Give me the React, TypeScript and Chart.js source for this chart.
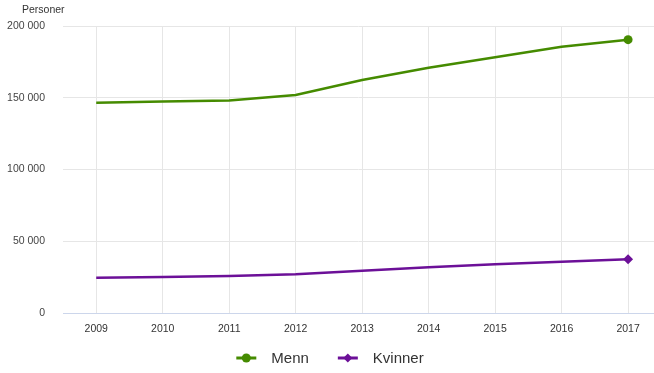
import React, { useEffect, useRef } from "react";
import { Chart, registerables } from "chart.js";

Chart.register(...registerables);

const years = [2009, 2010, 2011, 2012, 2013, 2014, 2015, 2016, 2017];
const menn = [146500, 147300, 148000, 151900, 162400, 170900, 178200, 185600, 190500];
const kvinner = [24600, 25100, 25800, 27000, 29500, 31800, 33900, 35800, 37400];
const yTicks = [0, 50000, 100000, 150000, 200000];
const seriesNames = ["Menn", "Kvinner"];
const unitLabel = "Personer";

const GREEN = "#458b00";
const PURPLE = "#6c1098";
const FONT = "Arial, 'Liberation Sans', sans-serif";

function fmt(v: number) {
  return String(v).replace(/\B(?=(\d{3})+(?!\d))/g, " ");
}

export default function App() {
  const ref = useRef<HTMLCanvasElement>(null);
  useEffect(() => {
    const titlePlugin = {
      id: "unitTitle",
      afterDraw(chart: any) {
        const ctx = chart.ctx;
        ctx.save();
        ctx.font = "10.5px " + FONT;
        ctx.fillStyle = "#333";
        ctx.textBaseline = "middle";
        ctx.textAlign = "left";
        ctx.fillText(unitLabel, 22, 10);
        ctx.restore();
      },
    };
    const legendPlugin = {
      id: "lineLegend",
      afterDraw(chart: any) {
        const ctx = chart.ctx;
        ctx.save();
        ctx.font = "15px " + FONT;
        const iconW = 20;
        const iconGap = 15;
        const itemGap = 29;
        const ds = chart.data.datasets;
        const widths = ds.map((d: any) => ctx.measureText(d.label).width);
        const total =
          widths.reduce((a: number, w: number) => a + w + iconW + iconGap, 0) + itemGap * (ds.length - 1);
        let x = chart.width / 2 - total / 2 + 3;
        const y = 358;
        ds.forEach((d: any, i: number) => {
          const color = d.borderColor;
          ctx.strokeStyle = color;
          ctx.fillStyle = color;
          ctx.lineWidth = 3;
          ctx.beginPath();
          ctx.moveTo(x, y);
          ctx.lineTo(x + iconW, y);
          ctx.stroke();
          ctx.beginPath();
          const cx = x + iconW / 2;
          if (i === 0) {
            ctx.arc(cx, y, 4.5, 0, Math.PI * 2);
          } else {
            ctx.moveTo(cx, y - 4.5);
            ctx.lineTo(cx + 4.5, y);
            ctx.lineTo(cx, y + 4.5);
            ctx.lineTo(cx - 4.5, y);
            ctx.closePath();
          }
          ctx.fill();
          x += iconW + iconGap;
          ctx.fillStyle = "#333";
          ctx.textBaseline = "middle";
          ctx.textAlign = "left";
          ctx.fillText(d.label, x, y + 0.5);
          x += widths[i] + itemGap;
        });
        ctx.restore();
      },
    };
    const lastOnly = (r: number) => (ctx: any) => (ctx.dataIndex === years.length - 1 ? r : 0);
    const chart = new Chart(ref.current!, {
      type: "line",
      data: {
        datasets: [
          {
            label: seriesNames[0],
            data: years.map((y, i) => ({ x: y, y: menn[i] })),
            borderColor: GREEN,
            backgroundColor: GREEN,
            borderWidth: 2.5,
            pointStyle: "circle",
            pointRadius: lastOnly(4.5),
            pointHoverRadius: lastOnly(4.5),
            pointBorderWidth: 0,
            tension: 0,
          },
          {
            label: seriesNames[1],
            data: years.map((y, i) => ({ x: y, y: kvinner[i] })),
            borderColor: PURPLE,
            backgroundColor: PURPLE,
            borderWidth: 2.5,
            pointStyle: "rectRot",
            pointRadius: lastOnly(5),
            pointHoverRadius: lastOnly(5),
            pointBorderWidth: 0,
            tension: 0,
          },
        ],
      },
      options: {
        animation: false,
        responsive: false,
        maintainAspectRatio: false,
        layout: { autoPadding: false, padding: { top: 26, right: 0, left: 0, bottom: 36 } },
        plugins: {
          tooltip: { enabled: false },
          title: { display: false },
          legend: { display: false },
        },
        scales: {
          x: {
            type: "linear",
            min: 2008.5,
            max: 2017.39,
            afterBuildTicks: (s: any) => {
              s.ticks = years.map((v) => ({ value: v }));
            },
            ticks: {
              autoSkip: false,
              maxRotation: 0,
              color: "#333",
              padding: 10,
              font: { size: 10.5, family: FONT },
              callback: (v: any) => String(v),
            },
            grid: { color: "#e6e6e6", drawTicks: false, lineWidth: 1 },
            border: { color: "#ccd6eb", width: 1 },
            afterFit: (s: any) => {
              s.height = 24;
            },
          },
          y: {
            min: 0,
            max: 200000,
            afterBuildTicks: (s: any) => {
              s.ticks = yTicks.map((v) => ({ value: v }));
            },
            ticks: {
              color: "#444",
              padding: 18,
              font: { size: 10.5, family: FONT },
              callback: (v: any) => fmt(Number(v)),
            },
            grid: { color: "#e6e6e6", drawTicks: false },
            border: { display: false },
            afterFit: (s: any) => {
              s.width = 63;
            },
          },
        },
      },
      plugins: [titlePlugin, legendPlugin],
    } as any);
    return () => chart.destroy();
  }, []);
  return (
    <div style={{ position: "fixed", left: 0, top: 0, width: 654, height: 373, background: "#fff" }}>
      <canvas ref={ref} width={654} height={373} style={{ width: 654, height: 373 }} />
    </div>
  );
}
